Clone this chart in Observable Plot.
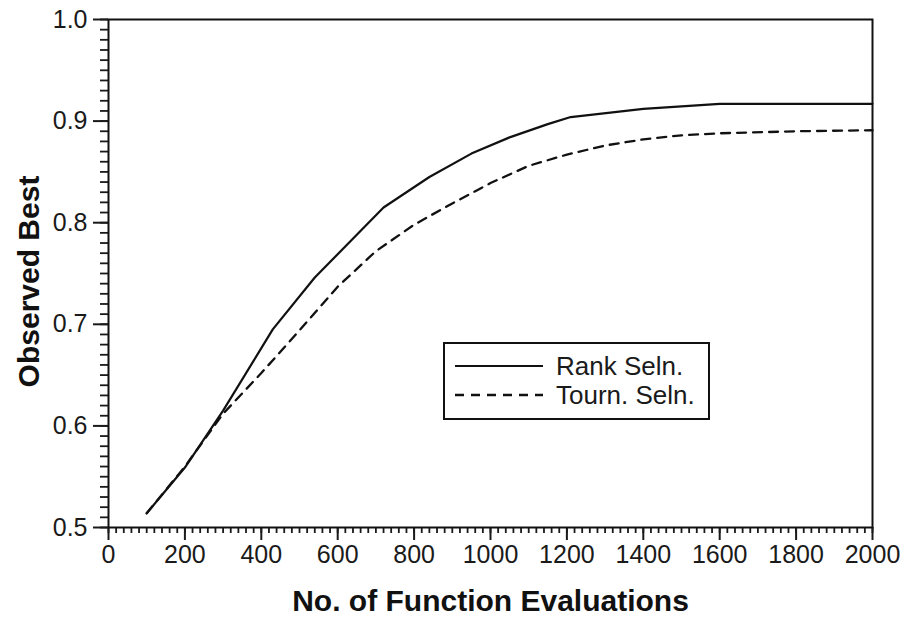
<!DOCTYPE html>
<html>
<head>
<meta charset="utf-8">
<script src="https://cdn.jsdelivr.net/npm/d3@7"></script>
<script src="https://cdn.jsdelivr.net/npm/@observablehq/plot@0.6"></script>
<style>
  html, body { margin: 0; padding: 0; background: #fff; }
  #wrap { position: relative; width: 907px; height: 619px; font-family: Arial, "Liberation Sans", Helvetica, sans-serif; }
  #legend { position: absolute; left: 443px; top: 342px; width: 263px; height: 74px; border: 2px solid #111; background: #fff; box-sizing: content-box; }
  #legend .row { position: absolute; left: 10px; display: flex; align-items: center; font-size: 26px; line-height: 28px; color: #1a1a1a; }
  #legend .row span { margin-left: 13px; }
</style>
</head>
<body>
<div id="wrap"></div>
<script>
const rankX = [100, 200, 300, 430, 540, 720, 840, 950, 1050, 1150, 1210, 1400, 1600, 2000];
const rankY = [0.514, 0.559, 0.615, 0.695, 0.746, 0.815, 0.845, 0.868, 0.884, 0.897, 0.904, 0.912, 0.917, 0.917];
const tournX = [100, 200, 300, 400, 500, 600, 700, 800, 900, 1000, 1100, 1200, 1300, 1400, 1500, 1600, 1800, 2000];
const tournY = [0.514, 0.560, 0.612, 0.652, 0.694, 0.737, 0.772, 0.798, 0.819, 0.839, 0.856, 0.867, 0.876, 0.882, 0.886, 0.888, 0.890, 0.891];
const xTicks = [0, 200, 400, 600, 800, 1000, 1200, 1400, 1600, 1800, 2000];
const yTicks = [0.5, 0.6, 0.7, 0.8, 0.9, 1.0];
const seriesNames = ["Rank Seln.", "Tourn. Seln."];
const xTitle = ["No. of Function Evaluations"];
const yTitle = ["Observed Best"];

const rank = rankX.map((x, i) => ({x, y: rankY[i]}));
const tourn = tournX.map((x, i) => ({x, y: tournY[i]}));
const xMinor = d3.range(0, 2001, 20);
const yMinor = d3.range(50, 101, 1).map(d => d / 100);

const chart = Plot.plot({
  width: 907,
  height: 619,
  marginLeft: 108,
  marginRight: 35,
  marginTop: 19,
  marginBottom: 92,
  style: {fontFamily: 'Arial, "Liberation Sans", Helvetica, sans-serif', color: "#1a1a1a", background: "#fff"},
  x: {domain: [0, 2000]},
  y: {domain: [0.5, 1.0]},
  marks: [
    Plot.axisX({ticks: xMinor, tickSize: 6, text: null, label: null, strokeWidth: 1.8}),
    Plot.axisY({ticks: yMinor, tickSize: 8, text: null, label: null, strokeWidth: 1.8}),
    Plot.axisX({ticks: xTicks, tickSize: 13, tickPadding: 5, fontSize: 25, strokeWidth: 2,
      tickFormat: d3.format("d"), label: null}),
    Plot.axisY({ticks: yTicks, tickSize: 15, tickPadding: 6, fontSize: 25, strokeWidth: 2,
      tickFormat: d3.format(".1f"), label: null}),
    Plot.frame({stroke: "#111", strokeWidth: 2}),
    Plot.line(tourn, {x: "x", y: "y", stroke: "#111", strokeWidth: 2.3, strokeDasharray: "9,7"}),
    Plot.line(rank, {x: "x", y: "y", stroke: "#111", strokeWidth: 2.2}),
    Plot.text(xTitle, {text: d => d, frameAnchor: "bottom", textAnchor: "middle", dy: 83, fontSize: 30, fontWeight: "bold", fill: "#111"}),
    Plot.text(yTitle, {text: d => d, frameAnchor: "left", textAnchor: "middle", dx: -79, dy: 8, rotate: -90, fontSize: 30, fontWeight: "bold", fill: "#111"})
  ]
});

const wrap = document.getElementById("wrap");
wrap.appendChild(chart);

const legend = document.createElement("div");
legend.id = "legend";
legend.innerHTML = `
  <div class="row" style="top:8px"><svg width="88" height="10"><line x1="0" x2="88" y1="5" y2="5" stroke="#111" stroke-width="2.2"/></svg><span>${seriesNames[0]}</span></div>
  <div class="row" style="top:37px"><svg width="88" height="10"><line x1="0" x2="88" y1="5" y2="5" stroke="#111" stroke-width="2.3" stroke-dasharray="9,7"/></svg><span>${seriesNames[1]}</span></div>`;
wrap.appendChild(legend);
</script>
</body>
</html>
